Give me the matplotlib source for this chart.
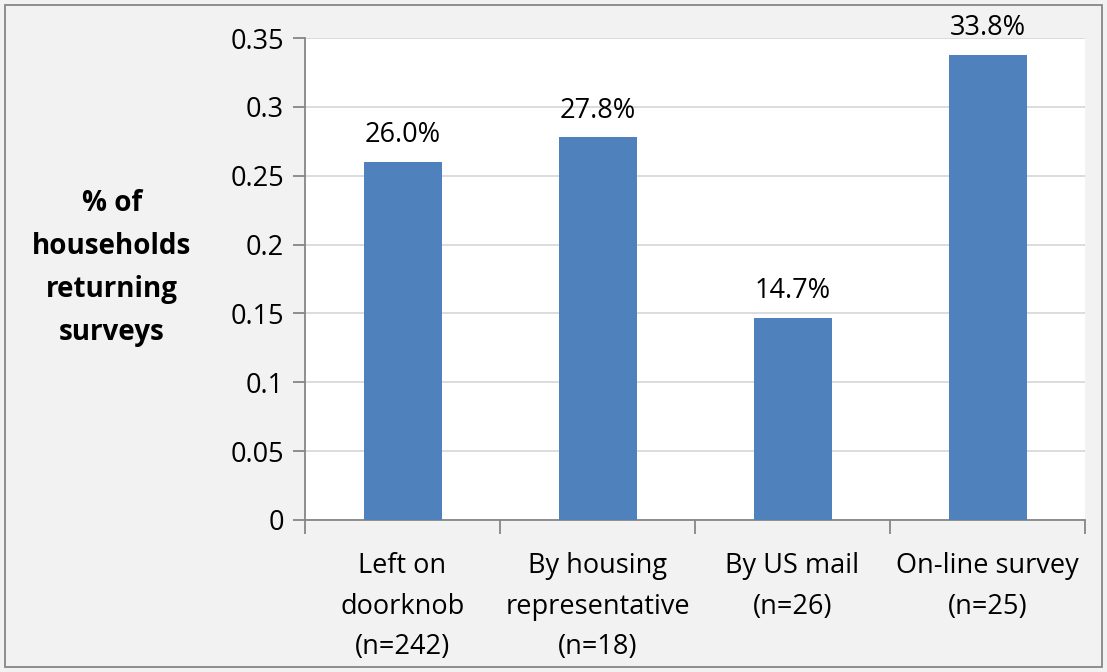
import matplotlib
matplotlib.use("Agg")
import matplotlib.pyplot as plt
from matplotlib.patches import Rectangle
from matplotlib.ticker import FixedLocator

categories = ["Left on\ndoorknob\n(n=242)", "By housing\nrepresentative\n(n=18)",
              "By US mail\n(n=26)", "On-line survey\n(n=25)"]
values = [0.260, 0.278, 0.147, 0.338]
labels = ["26.0%", "27.8%", "14.7%", "33.8%"]
yticks = [0, 0.05, 0.1, 0.15, 0.2, 0.25, 0.3, 0.35]
yticklabels = ["0", "0.05", "0.1", "0.15", "0.2", "0.25", "0.3", "0.35"]

plt.rcParams['font.family'] = ['Open Sans', 'DejaVu Sans']
fs = 19.5

fig = plt.figure(figsize=(11.07, 6.72), dpi=100, facecolor="#f2f2f2")
ax = fig.add_axes([305/1107, 1-520/672, 780/1107, 482/672])
ax.set_facecolor("white")

x = list(range(len(categories)))
ax.bar(x, values, width=0.4, color="#4f81bd", zorder=3)
for xi, v, lab in zip(x, values, labels):
    ax.annotate(lab, (xi, v), xytext=(0, 9), textcoords="offset points",
                ha="center", va="bottom", fontsize=fs, color="black")

ax.set_xlim(-0.5, len(categories)-0.5)
ax.set_ylim(0, 0.35)
ax.set_yticks(yticks)
ax.set_yticklabels(yticklabels, fontsize=fs)
ax.set_xticks(x)
ax.set_xticklabels(categories, fontsize=fs, linespacing=1.6)
ax.xaxis.set_minor_locator(FixedLocator([i - 0.5 for i in range(len(categories)+1)]))
ax.tick_params(axis="x", which="major", length=0, pad=23)
ax.tick_params(axis="x", which="minor", length=10, color="#868686", width=1.3)
ax.tick_params(axis="y", length=9, color="#868686", width=1.3, pad=6)
ax.grid(axis="y", color="#d9d9d9", linewidth=1.3, zorder=0)
for s in ["top", "right"]:
    ax.spines[s].set_visible(False)
for s in ["left", "bottom"]:
    ax.spines[s].set_color("#868686")
    ax.spines[s].set_linewidth(1.3)

fig.text(112/1107, 1-268/672, "% of\nhouseholds\nreturning\nsurveys", ha="center", va="center",
         fontsize=20, fontweight="bold", linespacing=1.63)

fig.patches.append(Rectangle((5/1107, 5/672), 1097/1107, 662/672, transform=fig.transFigure,
                             fill=False, edgecolor="#868686", linewidth=1.3))

fig.savefig("out.png", dpi=100, facecolor=fig.get_facecolor())
